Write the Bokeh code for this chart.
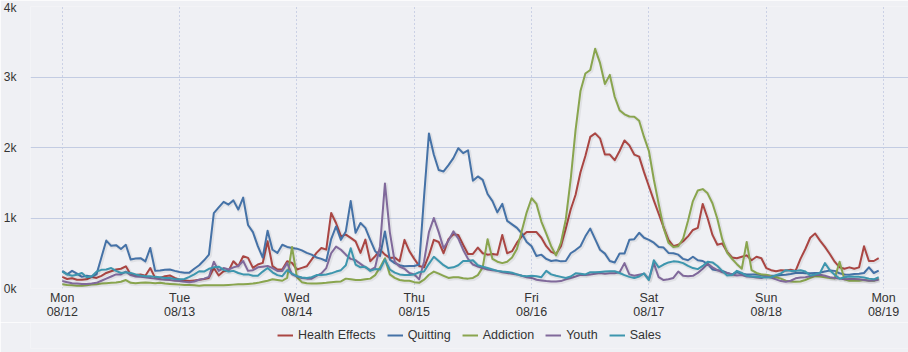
from bokeh.plotting import figure
from bokeh.layouts import column
from bokeh.models import FixedTicker, Legend, LegendItem, ColumnDataSource, Range1d
from bokeh.transform import dodge
from bokeh.embed import file_html
from bokeh.resources import INLINE

# hourly points from Mon 08/12 00:00 to Sun 08/18 23:00
hours = list(range(168))
day_ticks = [0, 24, 48, 72, 96, 120, 144, 168]
day_labels = ["Mon\n08/12", "Tue\n08/13", "Wed\n08/14", "Thu\n08/15",
              "Fri\n08/16", "Sat\n08/17", "Sun\n08/18", "Mon\n08/19"]
y_ticks = [0, 1000, 2000, 3000, 4000]
y_labels = ["0k", "1k", "2k", "3k", "4k"]

health_effects = [
    165, 135, 145, 125, 125, 130, 165, 150, 180, 220, 245, 270, 280, 315, 200, 190, 200, 180, 290, 150, 150, 175, 185, 150,
    125, 115, 105, 115, 125, 135, 150, 290, 185, 245, 250, 386, 315, 457, 434, 292, 340, 363, 669, 320, 270, 270, 386, 363,
    269, 292, 315, 410, 505, 575, 551, 1070, 929, 740, 764, 717, 669, 505, 693, 386, 457, 551, 481, 434, 440, 386, 690, 530,
    420, 320, 300, 470, 690, 660, 500, 700, 770, 760, 620, 490, 490, 580, 500, 480, 490, 480, 760, 500, 530, 650, 740, 800,
    800, 800, 720, 600, 520, 490, 600, 850, 1120, 1330, 1650, 1880, 2150, 2200, 2130, 1900, 1900, 1820, 1950, 2100, 2030, 1900, 1870, 1650,
    1450, 1250, 1060, 870, 690, 600, 620, 670, 740, 830, 860, 1200, 1000, 760, 620, 640, 520, 440, 430, 450, 470, 400, 450, 430,
    290, 260, 245, 260, 255, 265, 250, 420, 560, 720, 780, 680, 590, 490, 380, 300, 280, 300, 280, 300, 600, 390, 390, 430,
]
quitting = [
    250, 200, 250, 210, 165, 180, 170, 200, 440, 680, 605, 615, 560, 620, 410, 425, 430, 385, 575, 250, 255, 265, 270, 250,
    235, 225, 225, 280, 330, 400, 480, 1070, 1150, 1230, 1190, 1250, 1120, 1290, 900, 800, 600, 440, 820, 550, 505, 620, 590, 575,
    565, 540, 505, 480, 440, 420, 390, 700, 880, 690, 810, 1240, 790, 930, 860, 690, 530, 460, 810, 410, 360, 330, 315, 320,
    320, 340, 1300, 2200, 1900, 1680, 1660, 1750, 1850, 1990, 1920, 1960, 1530, 1590, 1540, 1340, 1240, 1080, 1200, 960, 910, 860, 780, 660,
    600, 460, 480, 420, 390, 400, 385, 390, 500, 545, 600, 740, 850, 700, 550, 495, 390, 370, 495, 495, 690, 700, 790, 720,
    690, 650, 590, 580, 505, 500, 480, 420, 400, 450, 400, 390, 350, 270, 260, 250, 220, 200, 230, 210, 200, 200, 200, 190,
    185, 180, 180, 190, 195, 205, 220, 225, 215, 215, 220, 225, 240, 255, 250, 215, 200, 195, 205, 210, 220, 300, 220, 255,
]
addiction = [
    60, 50, 45, 40, 40, 45, 55, 60, 70, 75, 80, 85, 95, 120, 80, 75, 80, 85, 80, 75, 80, 70, 65, 60,
    55, 50, 50, 45, 40, 45, 45, 45, 45, 45, 50, 55, 60, 60, 65, 70, 80, 95, 110, 130, 120, 110, 150, 590,
    160, 90, 75, 70, 70, 75, 80, 90, 95, 100, 140, 130, 120, 120, 130, 140, 190, 300, 430, 200, 150, 120, 110, 110,
    90, 80, 125, 195, 240, 210, 180, 150, 160, 160, 145, 140, 150, 190, 300, 700, 420, 380, 360, 380, 440, 560, 820, 1080,
    1280, 1200, 950, 780, 600, 470, 650, 980, 1550, 2250, 2800, 3050, 3100, 3400, 3200, 2900, 3030, 2720, 2530, 2470, 2440, 2436, 2380, 2150,
    1950, 1550, 1200, 860, 650, 590, 600, 710, 960, 1240, 1390, 1410, 1350, 1210, 990, 700, 510, 420, 345, 280, 660, 260, 220, 200,
    195, 175, 160, 140, 110, 100, 95, 100, 120, 150, 175, 170, 160, 150, 140, 380, 130, 110, 110, 110, 120, 110, 110, 140,
]
youth = [
    105, 90, 75, 70, 65, 65, 70, 80, 110, 140, 170, 200, 200, 240, 190, 170, 165, 160, 150, 140, 130, 125, 120, 110,
    105, 95, 90, 100, 125, 140, 165, 380, 250, 290, 270, 300, 320, 390, 250, 260, 300, 310, 320, 290, 250, 250, 360, 200,
    170, 150, 140, 140, 180, 215, 290, 500, 595, 550, 480, 420, 400, 350, 300, 260, 300, 600, 1490, 800, 380, 310, 280, 220,
    200, 130, 380, 800, 1000, 800, 570, 680, 810, 710, 550, 420, 340, 310, 290, 270, 260, 250, 230, 220, 210, 200, 180, 160,
    150, 125, 115, 105, 100, 100, 105, 130, 150, 170, 195, 190, 200, 210, 220, 210, 215, 215, 230, 360, 200, 180, 195, 210,
    130, 360, 160, 120, 130, 150, 240, 180, 175, 180, 220, 280, 350, 300, 260, 230, 220, 200, 185, 190, 170, 165, 155, 150,
    170, 155, 130, 105, 95, 110, 145, 155, 160, 175, 190, 195, 180, 160, 150, 140, 130, 135, 135, 130, 120, 110, 115, 125,
]
sales = [
    240, 200, 180, 195, 220, 160, 170, 240, 265, 270, 290, 250, 220, 230, 220, 200, 185, 175, 175, 165, 160, 150, 150, 135,
    130, 135, 165, 200, 245, 240, 280, 300, 310, 265, 240, 250, 220, 200, 200, 180, 180, 240, 290, 230, 190, 175, 260, 210,
    175, 155, 150, 160, 190, 190, 200, 215, 240, 260, 330, 570, 340, 300, 310, 250, 275, 270, 410, 270, 225, 200, 190, 190,
    200, 230, 240, 350, 450, 390, 330, 290, 300, 330, 390, 390, 400, 330, 310, 290, 270, 250, 240, 235, 225, 200, 180, 175,
    180, 175, 160, 250, 200, 180, 165, 150, 170, 215, 210, 200, 230, 230, 235, 240, 245, 245, 220, 190, 165, 150, 170, 215,
    120, 400, 300, 340, 370, 385, 380, 360, 320, 290, 275, 320, 380, 370, 320, 250, 185, 190, 250, 220, 180, 170, 165, 160,
    155, 160, 190, 215, 260, 250, 250, 260, 240, 185, 200, 220, 360, 260, 195, 140, 160, 170, 165, 165, 155, 140, 130, 160,
]

series_names = ["Health Effects", "Quitting", "Addiction", "Youth", "Sales"]
series_values = [health_effects, quitting, addiction, youth, sales]
series_colors = ["#AA4643", "#4572A7", "#89A54E", "#80699B", "#3D96AE"]

FONT = "Liberation Sans"
BG = "#eff0f4"
TXT = "#333333"

p = figure(width=908, height=322, output_backend="svg", toolbar_location=None,
           x_range=Range1d(-6.5, 173.1), y_range=Range1d(0, 4000),
           min_border_left=24, min_border_right=0, min_border_top=6, min_border_bottom=33)
p.background_fill_color = BG
p.border_fill_color = BG
p.outline_line_color = None

# axes
p.xaxis.ticker = FixedTicker(ticks=day_ticks)
p.xaxis.major_label_overrides = {t: l for t, l in zip(day_ticks, day_labels)}
p.yaxis.ticker = FixedTicker(ticks=y_ticks)
p.yaxis.major_label_overrides = {t: l for t, l in zip(y_ticks, y_labels)}
for ax in (p.xaxis, p.yaxis):
    ax.axis_line_color = None
    ax.major_tick_line_color = None
    ax.minor_tick_line_color = None
    ax.major_label_text_font = FONT
    ax.major_label_text_color = TXT
p.xaxis.major_label_text_font_size = "12.5px"
p.xaxis.major_label_text_line_height = 1.07
p.xaxis.major_label_standoff = -4
p.yaxis.major_label_text_font_size = "12px"
p.yaxis.major_label_standoff = 8

p.ygrid.grid_line_color = "#c3cce2"
p.ygrid.grid_line_width = 1
p.xgrid.grid_line_color = "#a7b2d6"
p.xgrid.grid_line_dash = "1 3"
p.xgrid.grid_line_width = 1

src = ColumnDataSource(data=dict(h=hours, **{n: v for n, v in zip(series_names, series_values)}))

for name, color in zip(series_names, series_colors):
    p.line(x=dodge("h", 0.2), y=dodge(name, -14), source=src, line_width=4,
           line_color="black", line_alpha=0.06, line_join="round")
    p.line(x="h", y=name, source=src, line_width=2, line_color=color, line_join="round")

# legend strip underneath the chart; its key renderers hold a point outside the view
lg = figure(width=908, height=30, output_backend="svg", toolbar_location=None,
            x_range=Range1d(0, 1), y_range=Range1d(0, 1),
            min_border_left=0, min_border_right=0, min_border_top=0, min_border_bottom=4)
lg.background_fill_color = BG
lg.border_fill_color = BG
lg.outline_line_color = None
lg.axis.visible = False
lg.grid.visible = False
items = []
for name, color in zip(series_names, series_colors):
    r = lg.line(x=[-10, -9], y=[-10, -10], line_width=2, line_color=color)
    items.append(LegendItem(label=name, renderers=[r]))
legend = Legend(items=items, orientation="horizontal", location="center")
legend.background_fill_alpha = 0
legend.border_line_color = None
legend.label_text_font = FONT
legend.label_text_font_size = "12.5px"
legend.label_text_color = TXT
legend.glyph_width = 16
legend.glyph_height = 14
legend.label_standoff = 5
legend.spacing = 11
legend.padding = 0
legend.margin = 0
lg.add_layout(legend, "center")

layout = column(p, lg, spacing=0)
open("out.html", "w").write(file_html(layout, INLINE))
